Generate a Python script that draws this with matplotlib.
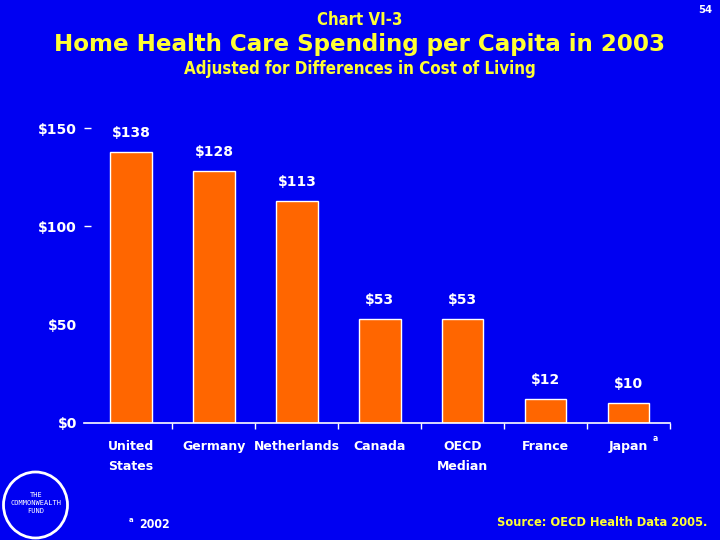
import numpy as np
import matplotlib.pyplot as plt
from matplotlib.patches import Ellipse

# data
countries = ['United\nStates', 'Germany', 'Netherlands', 'Canada', 'OECD\nMedian', 'France', 'Japan']
spending = [138, 128, 113, 53, 53, 12, 10]
yticks = [0, 50, 100, 150]
ytick_labels = ['$0', '$50', '$100', '$150']

bg = '#0000F2'
orange = '#FF6600'
yellow = '#FFFF33'
plt.rcParams['font.family'] = ['DejaVu Sans']
narrow = dict(family='DejaVu Sans', stretch='condensed', fontweight='bold')

fig = plt.figure(figsize=(7.2, 5.4), dpi=100, facecolor=bg)
ax = fig.add_axes([0.1167, 0.2167, 0.814, 0.546])
ax.set_facecolor(bg)

x = np.arange(len(countries))
ax.bar(x, spending, width=0.5, color=orange, edgecolor='white', linewidth=1)

for xi, v in zip(x, spending):
    ax.text(xi, v + 9.7, f'${v}', ha='center', va='center', color='white',
            fontsize=10, fontweight='bold', clip_on=False)

ax.set_xlim(-0.566, 6.494)
ax.set_ylim(0, 150)

for s in ['top', 'right', 'left']:
    ax.spines[s].set_visible(False)
ax.spines['bottom'].set_color('white')
ax.spines['bottom'].set_linewidth(1.2)

# boundary ticks, labels on minor ticks
ax.set_xticks(np.arange(0.5, 7, 1))
ax.set_xticklabels([])
ax.set_xticks(x, minor=True)
ax.set_xticklabels(countries, minor=True, color='white', fontsize=9,
                   fontweight='bold', linespacing=1.7, va='top')
ax.tick_params(axis='x', which='major', direction='out', length=4, color='white', width=1)
ax.tick_params(axis='x', which='minor', length=0, pad=12)

ax.set_yticks(yticks)
ax.set_yticklabels(ytick_labels, color='white', fontsize=10, fontweight='bold')
ax.tick_params(axis='y', direction='in', length=5, color='white', width=1, pad=5)
for t in ax.yaxis.get_major_ticks()[:2]:
    t.tick1line.set_visible(False)

ax.text(6.29, -8, 'a', color='white', fontsize=5.5, fontweight='bold',
        ha='left', va='center', clip_on=False)

# titles
fig.text(0.5, 1 - 20 / 540, 'Chart VI-3', ha='center', va='center', color=yellow,
         fontsize=12, **narrow)
fig.text(0.5, 1 - 44 / 540, 'Home Health Care Spending per Capita in 2003', ha='center',
         va='center', color=yellow, fontsize=16.6, fontweight='bold')
fig.text(0.5, 1 - 69 / 540, 'Adjusted for Differences in Cost of Living', ha='center',
         va='center', color=yellow, fontsize=12.2, **narrow)
fig.text(1 - 15 / 720, 1 - 10 / 540, '54', ha='center', va='center', color='white',
         fontsize=8, **narrow)

# footer
fig.text(129 / 720, 1 - 520 / 540, 'a', ha='left', va='center', color='white',
         fontsize=5, fontweight='bold')
fig.text(139 / 720, 1 - 524 / 540, '2002', ha='left', va='center', color='white',
         fontsize=8.8, **narrow)
fig.text(707 / 720, 1 - 522 / 540, 'Source: OECD Health Data 2005.', ha='right', va='center',
         color=yellow, fontsize=9.2, **narrow)

# logo
logo = Ellipse((35.5 / 720, 1 - 505 / 540), 64 / 720, 66 / 540, transform=fig.transFigure,
               facecolor='none', edgecolor='white', linewidth=2)
fig.patches.append(logo)
fig.text(36 / 720, 1 - 503 / 540, 'THE\nCOMMONWEALTH\nFUND', ha='center', va='center',
         color='white', fontsize=5, linespacing=1.4, family='DejaVu Sans Mono')

fig.savefig('out.png', dpi=100, facecolor=bg)
